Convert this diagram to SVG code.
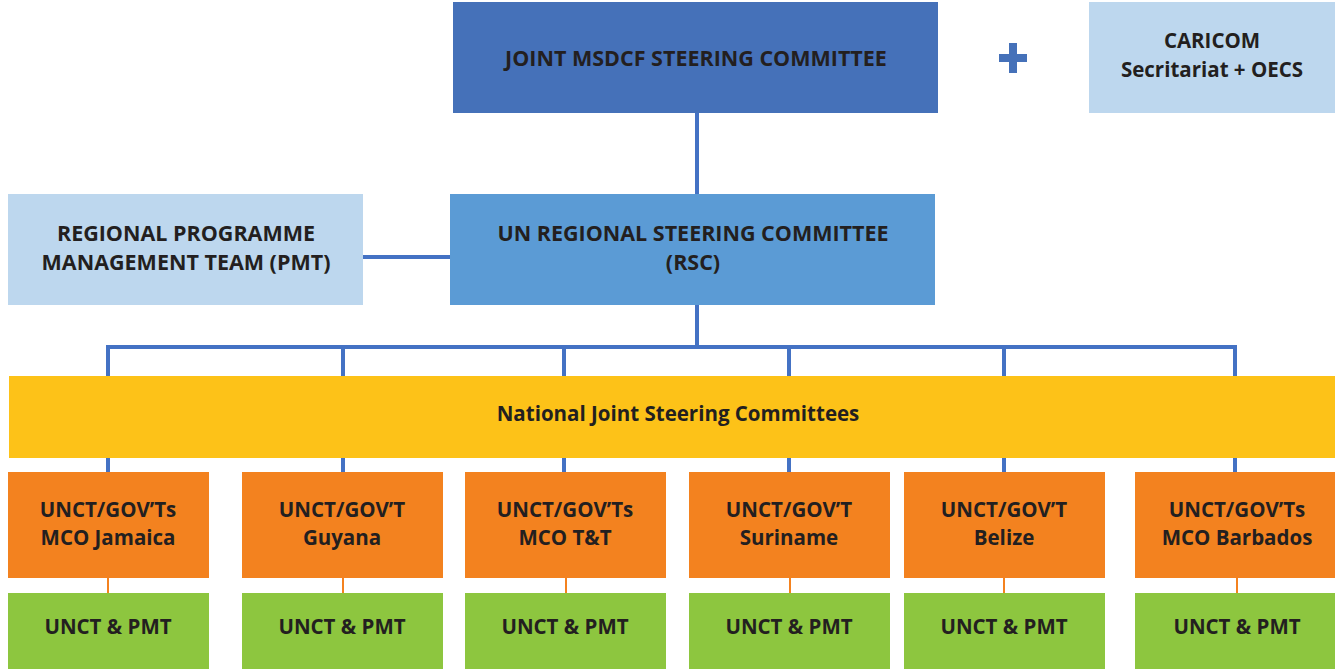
<svg xmlns="http://www.w3.org/2000/svg" width="1335" height="669" viewBox="0 0 1335 669">
<style>
text{font-family:"Open Sans","Noto Sans","Liberation Sans",sans-serif;font-weight:700;font-size:20.5px;fill:#231F20;text-anchor:middle}
.big{font-size:21.5px}
.c{stroke:#4472C4;stroke-width:4;fill:none}
.o{stroke:#F4821F;stroke-width:2;fill:none}
.top{fill:#4571B9}.rsc{fill:#5B9BD5}.lt{fill:#BDD7EE}.yel{fill:#FDC218}.org{fill:#F3821F}.grn{fill:#8DC63F}
</style>
<rect width="1335" height="669" fill="#fff"/>
<g id="connectors">
<path class="c" d="M697 113V194M363 257H450M697 305V347M108 347H1236M108 345V376M343 347V376M564 347V376M789 347V376M1004 347V376M1235 345V376M108 458V472M343 458V472M564 458V472M789 458V472M1004 458V472M1235 458V472"/>
<path class="o" d="M108 578V593M343 578V593M566 578V593M790 578V593M1004 578V593M1237 578V593"/>
</g>
<g id="joint"><rect class="top" x="453" y="2" width="485" height="111"/><text class="big" x="696" y="66">JOINT MSDCF STEERING COMMITTEE</text></g>
<g id="plus"><rect x="999" y="54" width="28" height="8" fill="#4571B9"/><rect x="1009" y="43" width="8" height="30" fill="#4571B9"/></g>
<g id="caricom"><rect class="lt" x="1089" y="2" width="246" height="111"/><text x="1212" y="48">CARICOM</text><text x="1212" y="77">Secritariat + OECS</text></g>
<g id="pmt"><rect class="lt" x="8" y="194" width="355" height="111"/><text class="big" x="186" y="241">REGIONAL PROGRAMME</text><text class="big" x="186" y="270">MANAGEMENT TEAM (PMT)</text></g>
<g id="rsc"><rect class="rsc" x="450" y="194" width="485" height="111"/><text class="big" x="693" y="241">UN REGIONAL STEERING COMMITTEE</text><text class="big" x="693" y="270">(RSC)</text></g>
<g id="national"><rect class="yel" x="9" y="376" width="1326" height="82"/><text x="678" y="421">National Joint Steering Committees</text></g>
<g id="o1"><rect class="org" x="8" y="472" width="201" height="106"/><text x="108" y="517">UNCT/GOV’Ts</text><text x="108" y="545">MCO Jamaica</text></g>
<g id="o2"><rect class="org" x="242" y="472" width="201" height="106"/><text x="342" y="517">UNCT/GOV’T</text><text x="342" y="545">Guyana</text></g>
<g id="o3"><rect class="org" x="465" y="472" width="201" height="106"/><text x="565" y="517">UNCT/GOV’Ts</text><text x="565" y="545">MCO T&amp;T</text></g>
<g id="o4"><rect class="org" x="689" y="472" width="201" height="106"/><text x="789" y="517">UNCT/GOV’T</text><text x="789" y="545">Suriname</text></g>
<g id="o5"><rect class="org" x="904" y="472" width="201" height="106"/><text x="1004" y="517">UNCT/GOV’T</text><text x="1004" y="545">Belize</text></g>
<g id="o6"><rect class="org" x="1135" y="472" width="200" height="106"/><text x="1237" y="517">UNCT/GOV’Ts</text><text x="1237" y="545">MCO Barbados</text></g>
<g id="g1"><rect class="grn" x="8" y="593" width="201" height="76"/><text x="108" y="634">UNCT &amp; PMT</text></g>
<g id="g2"><rect class="grn" x="242" y="593" width="201" height="76"/><text x="342" y="634">UNCT &amp; PMT</text></g>
<g id="g3"><rect class="grn" x="465" y="593" width="201" height="76"/><text x="565" y="634">UNCT &amp; PMT</text></g>
<g id="g4"><rect class="grn" x="689" y="593" width="201" height="76"/><text x="789" y="634">UNCT &amp; PMT</text></g>
<g id="g5"><rect class="grn" x="904" y="593" width="201" height="76"/><text x="1004" y="634">UNCT &amp; PMT</text></g>
<g id="g6"><rect class="grn" x="1135" y="593" width="200" height="76"/><text x="1237" y="634">UNCT &amp; PMT</text></g>
</svg>
